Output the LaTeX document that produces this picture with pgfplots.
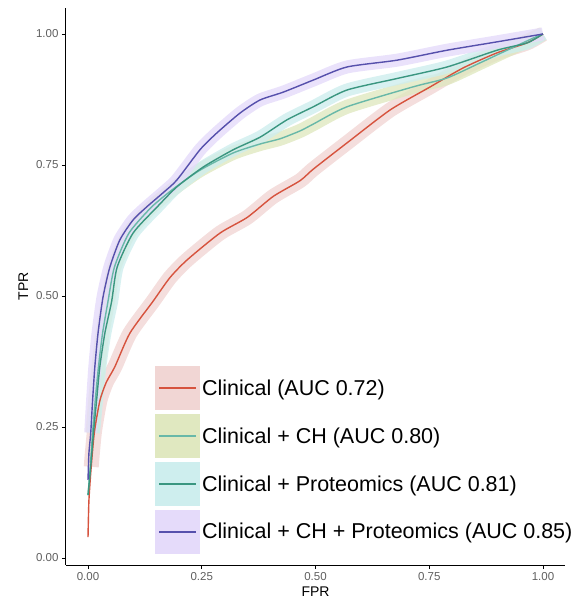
\documentclass[border=0pt]{standalone}
\usepackage{pgfplots}
\pgfplotsset{compat=1.18}
\usepackage{pgfplotstable}
\usepackage{fontspec}
\setmainfont{Liberation Sans}

\definecolor{lineR}{RGB}{214,83,62}
\definecolor{lineCH}{RGB}{104,184,168}
\definecolor{lineP}{RGB}{58,150,128}
\definecolor{linePu}{RGB}{86,80,172}
\definecolor{bandR}{RGB}{241,214,212}
\definecolor{bandCH}{RGB}{224,232,192}
\definecolor{bandP}{RGB}{206,238,238}
\definecolor{bandPu}{RGB}{229,219,250}
\definecolor{ticklab}{RGB}{95,95,95}

% ROC curves
\pgfplotstableread{
fpr tpr
0.000 0.040
0.002 0.110
0.007 0.174
0.014 0.240
0.026 0.300
0.040 0.335
0.059 0.365
0.092 0.429
0.143 0.490
0.180 0.535
0.218 0.569
0.290 0.620
0.350 0.650
0.407 0.690
0.466 0.720
0.495 0.742
0.569 0.792
0.664 0.855
0.752 0.899
0.824 0.935
0.899 0.964
0.965 0.983
1.000 1.000
}\clinical

\pgfplotstableread{
fpr tpr
0.000 0.120
0.005 0.175
0.010 0.239
0.016 0.302
0.023 0.365
0.032 0.429
0.044 0.490
0.058 0.555
0.090 0.620
0.140 0.670
0.190 0.706
0.246 0.740
0.319 0.773
0.378 0.790
0.422 0.800
0.466 0.815
0.495 0.828
0.569 0.861
0.714 0.899
0.789 0.916
0.862 0.945
0.921 0.969
0.978 0.992
1.000 1.000
}\clinch

\pgfplotstableread{
fpr tpr
0.000 0.120
0.006 0.175
0.012 0.239
0.019 0.302
0.026 0.365
0.037 0.429
0.052 0.490
0.064 0.555
0.099 0.620
0.152 0.670
0.195 0.708
0.253 0.746
0.319 0.779
0.378 0.803
0.437 0.836
0.495 0.861
0.569 0.893
0.679 0.915
0.789 0.937
0.899 0.969
0.965 0.983
1.000 1.000
}\clinprot

\pgfplotstableread{
fpr tpr
0.000 0.149
0.002 0.200
0.006 0.239
0.010 0.300
0.015 0.365
0.022 0.429
0.033 0.498
0.048 0.555
0.070 0.607
0.099 0.645
0.129 0.670
0.165 0.697
0.195 0.721
0.246 0.779
0.283 0.811
0.334 0.849
0.378 0.874
0.429 0.889
0.495 0.912
0.569 0.937
0.679 0.950
0.789 0.969
0.899 0.985
1.000 1.000
}\clinall

\pgfplotsset{
  band/.style={line width=#1, opacity=0.8, forget plot, smooth, tension=0.4,
    skip coords between index={0}{2}},
  roc/.style={line width=1.4pt, smooth, tension=0.4},
  key/.style={legend image code/.code={
    \fill[#1] (0pt,-21.6pt) rectangle (43.3pt,21.6pt);
    \draw[line width=1.4pt] (3.3pt,0pt) -- (40pt,0pt);}},
}

\begin{document}
\begin{tikzpicture}
\begin{axis}[
    scale only axis,
    width=499pt, height=557pt,
    xmin=-0.0484, xmax=1.0484,
    ymin=-0.0134, ymax=1.0496,
    axis x line*=bottom, axis y line*=left,
    axis line style={-, black, line width=1pt},
    xtick={0,0.25,0.5,0.75,1},
    ytick={0,0.25,0.5,0.75,1},
    tick align=outside,
    major tick length=4pt,
    tick style={black, line width=0.9pt},
    /pgf/number format/.cd, fixed, fixed zerofill, precision=2, assume math mode=true,
    /pgfplots/.cd,
    ticklabel style={font=\fontsize{11.5}{13}\selectfont, text=ticklab},
    xlabel={FPR}, ylabel={TPR},
    label style={font=\fontsize{14}{16}\selectfont},
    xlabel style={yshift=1pt},
    ylabel style={yshift=1pt},
    legend style={at={(axis cs:0.1475,0.367)}, anchor=north west,
        draw=none, fill=none, inner sep=0pt, row sep=3.3pt,
        font=\fontsize{21.5}{24}\selectfont,
        /tikz/every even column/.append style={column sep=2pt}},
    legend cell align=left,
]
% confidence bands
\addplot[bandR, band=15pt] table[x=fpr,y=tpr] {\clinical};
\addplot[bandCH, band=14pt] table[x=fpr,y=tpr] {\clinch};
\addplot[bandP, band=13pt] table[x=fpr,y=tpr] {\clinprot};
\addplot[bandPu, band=13pt] table[x=fpr,y=tpr] {\clinall};

% curves
\addplot[lineR, roc, key=bandR] table[x=fpr,y=tpr] {\clinical};
\addlegendentry{Clinical (AUC 0.72)}
\addplot[lineCH, roc, key=bandCH] table[x=fpr,y=tpr] {\clinch};
\addlegendentry{Clinical + CH (AUC 0.80)}
\addplot[lineP, roc, key=bandP] table[x=fpr,y=tpr] {\clinprot};
\addlegendentry{Clinical + Proteomics (AUC 0.81)}
\addplot[linePu, roc, key=bandPu] table[x=fpr,y=tpr] {\clinall};
\addlegendentry{Clinical + CH + Proteomics (AUC 0.85)}
\end{axis}
\pgfresetboundingbox
\path (current axis.south west) ++(-66pt,-38pt) rectangle ++(578pt,603pt);
\end{tikzpicture}
\end{document}
